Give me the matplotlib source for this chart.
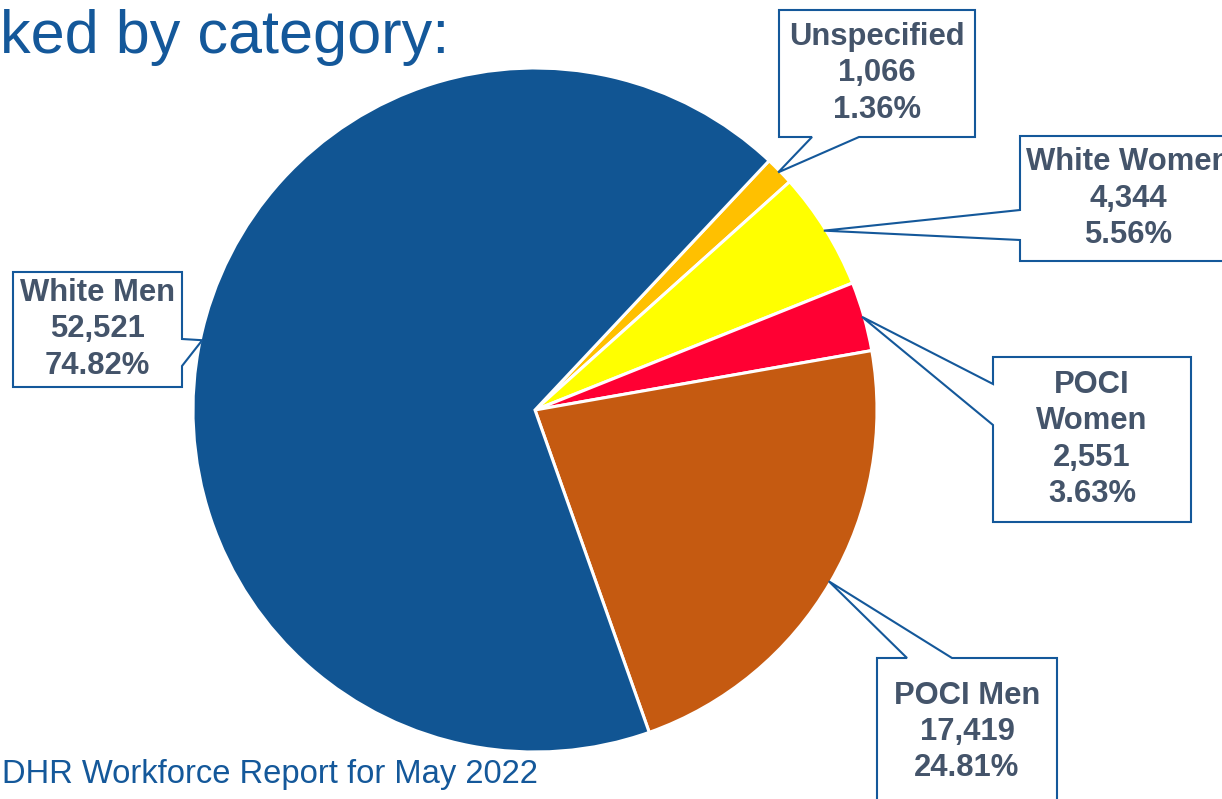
import numpy as np
import matplotlib
matplotlib.use("Agg")
import matplotlib.pyplot as plt
from matplotlib.patches import Polygon

# Data (pie order: clockwise from the top-right)
categories = ["Unspecified", "White Women", "POCI Women", "POCI Men", "White Men"]
label_names = ["Unspecified", "White Women", "POCI\nWomen", "POCI Men", "White Men"]
counts = [1066, 4344, 2551, 17419, 52521]
pct_labels = ["1.36%", "5.56%", "3.63%", "24.81%", "74.82%"]
colors = ["#FFC000", "#FFFF00", "#FF0033", "#C55A11", "#115593"]

W, H = 1222, 799
blue = "#14589A"
txt_col = "#44546A"
plt.rcParams['font.family'] = ['Liberation Sans', 'DejaVu Sans']

fig = plt.figure(figsize=(W / 100, H / 100), dpi=100)
ax = fig.add_axes([0, 0, 1, 1])

cx, cy, r = 535, H - 410, 342
wedges, _ = ax.pie(counts, colors=colors, startangle=46.8, counterclock=False,
                   center=(cx, cy), radius=r,
                   wedgeprops=dict(edgecolor="white", linewidth=2.2))

ax.set_xlim(0, W)
ax.set_ylim(0, H)
ax.set_aspect('equal')
ax.axis('off')

# callout boxes in image pixels: (x0, y0, x1, y1), side, pointer base
callouts = {
    "Unspecified": ((779, 10, 975, 137), "bottom", (812, 859)),
    "White Women": ((1020, 136, 1236, 261), "left", (210, 240)),
    "POCI Women": ((993, 357, 1191, 522), "left", (384, 425)),
    "POCI Men": ((877, 658, 1057, 806), "top", (907, 952)),
    "White Men": ((13, 272, 182, 387), "right", (339, 366)),
}


def fy(y):
    return H - y


for w, cat, name, n, pct in zip(wedges, categories, label_names, counts, pct_labels):
    (x0, y0, x1, y1), side, (a, b) = callouts[cat]
    mid = np.deg2rad((w.theta1 + w.theta2) / 2)
    tip = (cx + (r - 2) * np.cos(mid), cy + (r - 2) * np.sin(mid))
    TL, TR, BR, BL = (x0, fy(y0)), (x1, fy(y0)), (x1, fy(y1)), (x0, fy(y1))
    if side == "top":
        pts = [TL, (a, fy(y0)), tip, (b, fy(y0)), TR, BR, BL]
    elif side == "right":
        pts = [TL, TR, (x1, fy(a)), tip, (x1, fy(b)), BR, BL]
    elif side == "bottom":
        pts = [TL, TR, BR, (b, fy(y1)), tip, (a, fy(y1)), BL]
    else:
        pts = [TL, TR, BR, BL, (x0, fy(b)), tip, (x0, fy(a))]
    ax.add_patch(Polygon(pts, closed=True, facecolor="white", edgecolor=blue,
                         linewidth=1.5, zorder=3))
    ax.text((x0 + x1) / 2, fy((y0 + y1) / 2), f"{name}\n{n:,}\n{pct}",
            ha="center", va="center", fontsize=22.3, fontweight="bold",
            color=txt_col, linespacing=1.27, zorder=4)

ax.text(0, fy(53), "ked by category:", fontsize=44, color=blue,
        ha="left", va="baseline")
ax.text(2, fy(783), "DHR Workforce Report for May 2022", fontsize=23.6,
        color=blue, ha="left", va="baseline")

plt.savefig("out.png", dpi=100)
plt.close(fig)
